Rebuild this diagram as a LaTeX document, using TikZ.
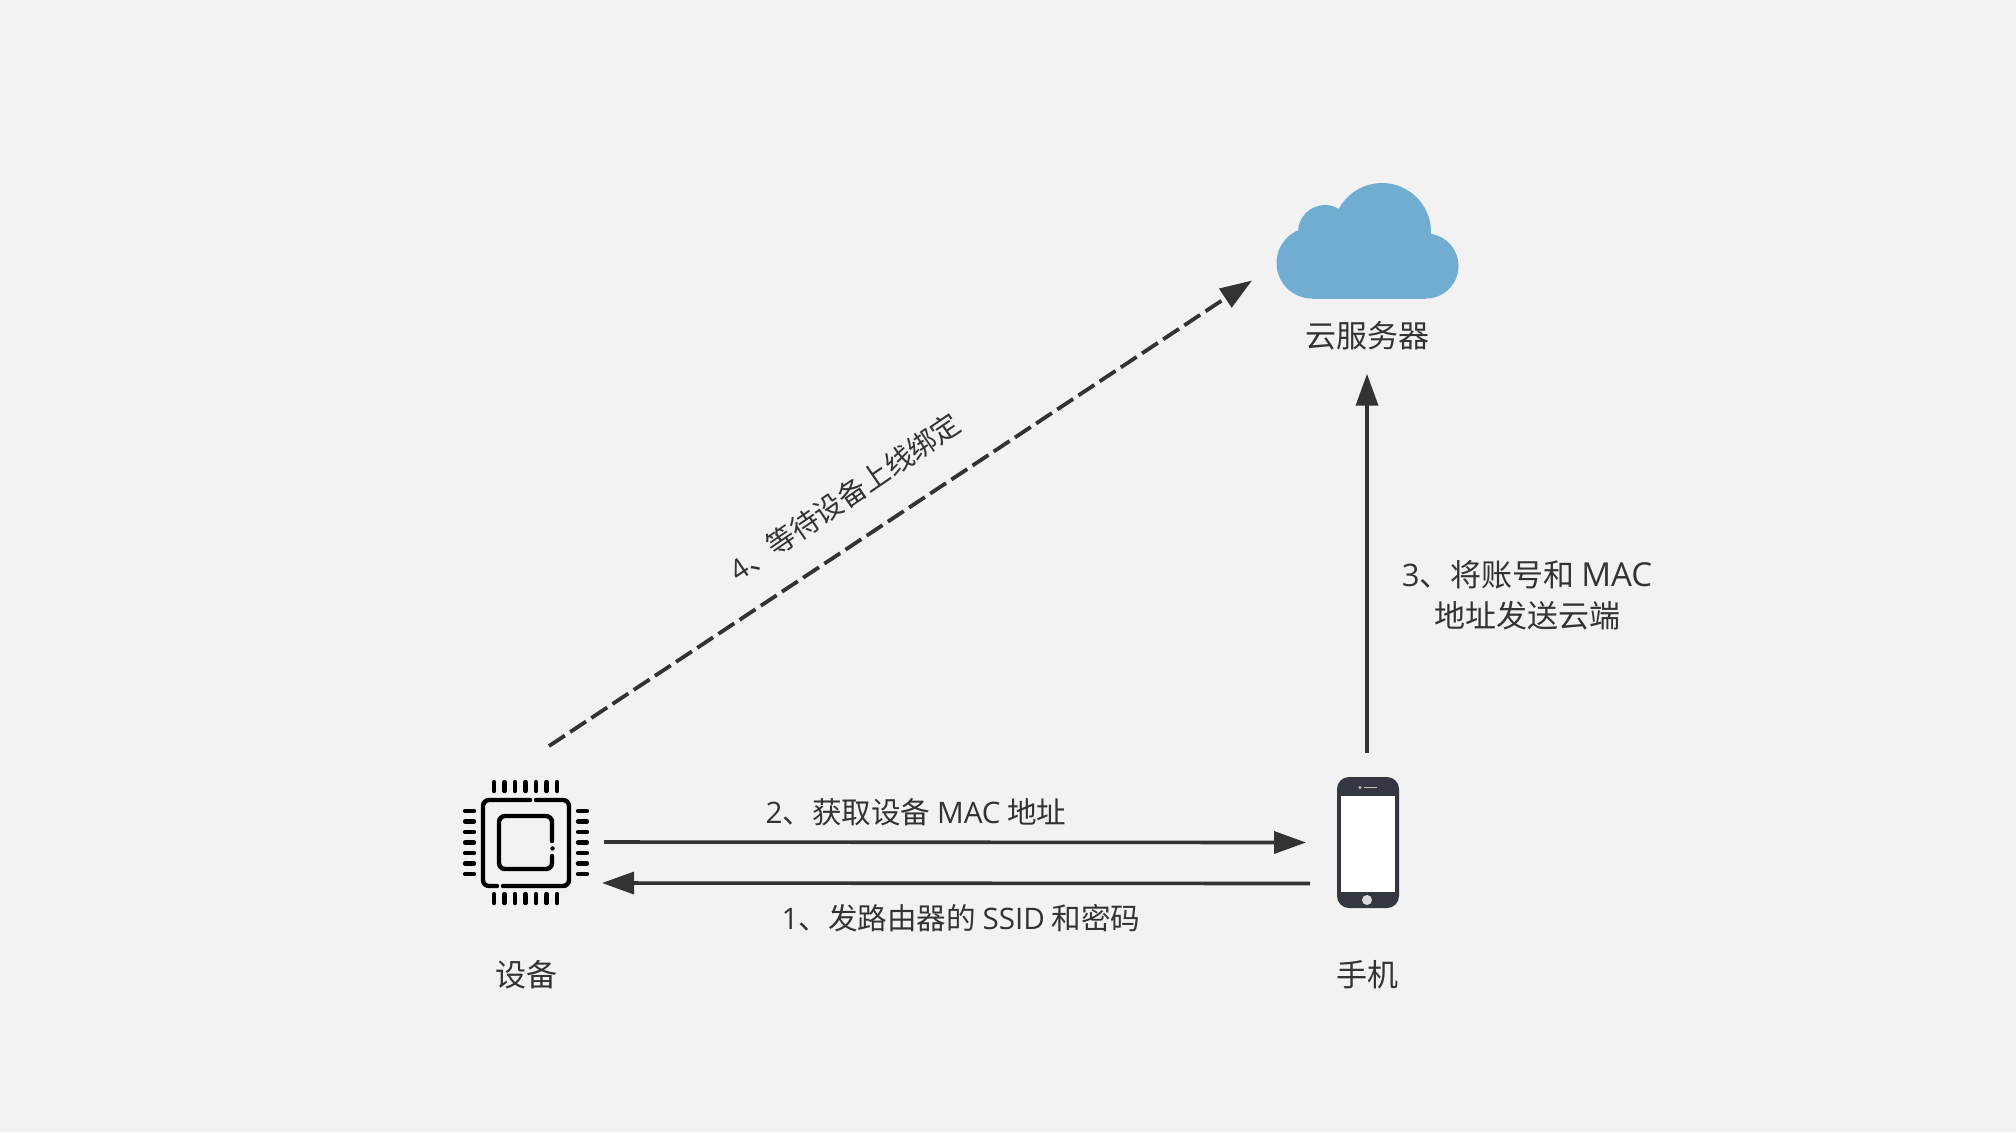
\documentclass[tikz,border=0pt]{standalone}
\usepackage{fontspec}
\setmainfont{Noto Sans CJK SC}
\newfontfamily\lat{Open Sans}
\usetikzlibrary{arrows.meta}
\definecolor{bgc}{HTML}{F2F2F2}
\definecolor{ink}{HTML}{333333}
\definecolor{cloudc}{HTML}{70ADD0}
\definecolor{phonec}{HTML}{343641}
\tikzset{
  lbl/.style={text=ink,font=\fontsize{15.5pt}{20.5pt}\selectfont,inner sep=0pt,align=center},
  lblsmall/.style={lbl,font=\fontsize{14.8pt}{20pt}\selectfont},
  lbltilt/.style={lbl,font=\fontsize{14.2pt}{20pt}\selectfont},
  icon/.style={draw=none,inner sep=0pt,outer sep=0pt,minimum width=#1},
  conn/.style={draw=ink,line width=1.8pt,-{Triangle[length=16pt,width=11pt]}},
  dashconn/.style={conn,line width=1.9pt,dash pattern=on 9.5pt off 3.2pt},
  chipline/.style={draw=black,line width=2.2pt,line cap=round,rounded corners=3pt},
  pin/.style={draw=black,line width=2.2pt,line cap=round}
}
\begin{document}
\begin{tikzpicture}[x=0.5pt,y=-0.5pt]
\useasboundingbox (0,0) rectangle (2016,1132);
\fill[bgc] (0,0) rectangle (2016,1132);
% cloud
\fill[cloudc] (1382,232) circle (49);
\fill[cloudc] (1325,232) circle (27);
\fill[cloudc] (1312,263) circle (35.5);
\fill[cloudc] (1426,266) circle (32.5);
\fill[cloudc] (1312,240) rectangle (1426,298.5);
\node[icon=91.5pt,minimum height=57.5pt] (cloud) at (1367.5,240.5) {};
% chip
\draw[chipline] (536,800) -- (569,800) -- (569,886) -- (503,886);
\draw[chipline] (497,886) -- (483,886) -- (483,800) -- (530,800);
\draw[chipline] (552,841) -- (552,816) -- (499,816) -- (499,869) -- (552,869) -- (552,856);
\fill[black] (552.5,848.5) circle (2.2);
\foreach \i in {0,...,6}{
  \pgfmathsetmacro{\p}{494+10.5*\i}
  \pgfmathsetmacro{\q}{811+10.5*\i}
  \draw[pin] (\p,782) -- (\p,791);
  \draw[pin] (\p,894) -- (\p,903);
  \draw[pin] (465,\q) -- (474,\q);
  \draw[pin] (578,\q) -- (587,\q);
}
\node[icon=62pt,minimum height=62pt] (chip) at (526,842) {};
% phone
\fill[phonec,rounded corners=6pt] (1337,777) rectangle (1399,908);
\fill[white] (1341,796) rectangle (1395,892);
\fill[bgc!90!black] (1367,900) circle (5);
\fill[bgc!80!black] (1360,787.5) circle (1.6);
\draw[bgc!80!black,line width=0.8pt] (1364,787.5) -- (1377,787.5);
\node[icon=31pt,minimum height=65.5pt] (phone) at (1368,842.5) {};
% labels
\node[lbl] (cloudlabel) at (1367,336) {云服务器};
\node[lbl] (chiplabel) at (526,975) {设备};
\node[lbl] (phonelabel) at (1367,975) {手机};
\node[lblsmall] (l2) at (916,812) {{\lat 2}、获取设备 {\lat MAC} 地址};
\node[lblsmall] (l1) at (961,918) {{\lat 1}、发路由器的 {\lat SSID} 和密码};
\node[lbl] (l3) at (1527,595) {{\lat 3}、将账号和 {\lat\fontsize{16.5pt}{20pt}\selectfont MAC}\\地址发送云端};
\node[lbltilt,rotate=34.3] (l4) at (845,497) {{\lat 4}、等待设备上线绑定};
% connectors
\draw[conn] ([xshift=8pt]chip.east) -- ([xshift=-15.5pt]phone.west);
\draw[conn] ([xshift=-13.5pt,yshift=-20.5pt]phone.west) -- ([xshift=7pt,yshift=-20.5pt]chip.east);
\draw[conn] ([xshift=-0.5pt,yshift=12pt]phone.north) -- ([yshift=-11.5pt]cloudlabel.south);
\draw[dashconn] ([xshift=-19.5pt,yshift=17pt]chip.north east) -- ([xshift=-12pt,yshift=-20pt]cloud.west);
\end{tikzpicture}
\end{document}
